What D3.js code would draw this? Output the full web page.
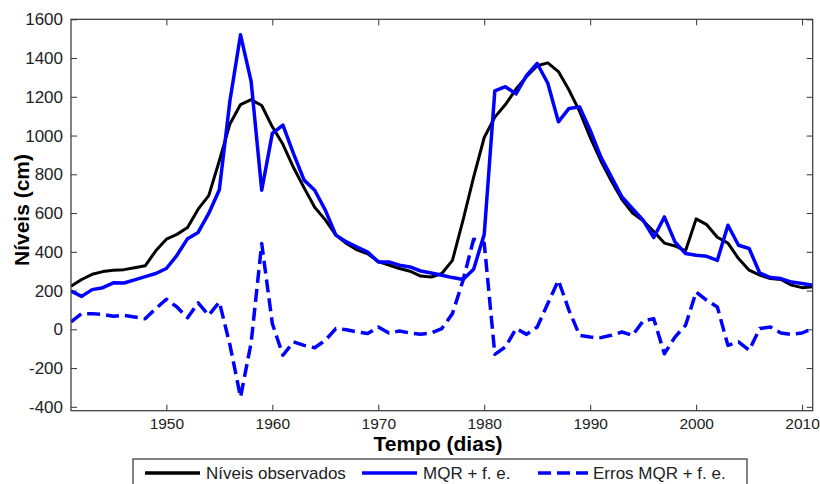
<!DOCTYPE html>
<html>
<head>
<meta charset="utf-8">
<script src="https://cdn.jsdelivr.net/npm/d3@7"></script>
<style>
    body { margin: 0; background: #fff; }
    svg { display: block; }
    text { font-family: "Liberation Sans", Arial, sans-serif; }
</style>
</head>
<body>
<div id="chart"></div>
<script>
// years on the x axis (one point per year)
const years = [
    1941, 1942, 1943, 1944, 1945, 1946, 1947, 1948, 1949, 1950,
    1951, 1952, 1953, 1954, 1955, 1956, 1957, 1958, 1959, 1960,
    1961, 1962, 1963, 1964, 1965, 1966, 1967, 1968, 1969, 1970,
    1971, 1972, 1973, 1974, 1975, 1976, 1977, 1978, 1979, 1980,
    1981, 1982, 1983, 1984, 1985, 1986, 1987, 1988, 1989, 1990,
    1991, 1992, 1993, 1994, 1995, 1996, 1997, 1998, 1999, 2000,
    2001, 2002, 2003, 2004, 2005, 2006, 2007, 2008, 2009, 2010, 2011
];

// Níveis observados
const observed = [
    222, 257, 284, 298, 305, 308, 318, 328, 405, 465,
    490, 525, 620, 690, 870, 1060, 1160, 1185, 1155, 1045,
    955, 835, 730, 630, 565, 486, 443, 410, 390, 350,
    332, 314, 300, 275, 270, 288, 356, 563, 785, 990,
    1095, 1160, 1240, 1305, 1360, 1375, 1330, 1235, 1125, 990,
    870, 765, 670, 600, 560, 505, 445, 430, 405, 570,
    540, 475, 445, 365, 305, 280, 262, 257, 228, 215, 220
];

// MQR + f. e.
const mqr = [
    198, 170, 205, 215, 240, 239, 255, 272, 288, 314,
    382, 468, 500, 598, 720, 1180, 1520, 1280, 718, 1011,
    1054, 907, 770, 718, 615, 486, 451, 425, 399, 348,
    348, 331, 322, 301, 291, 279, 267, 257, 310, 490,
    1230, 1252, 1215, 1310, 1372, 1270, 1071, 1140, 1148, 1028,
    890, 787, 683, 623, 563, 474, 580, 451, 391, 382,
    377, 356, 537, 434, 417, 291, 267, 262, 244, 236, 227
];

// Erros MQR + f. e.
const errors = [
    38, 81, 81, 77, 67, 72, 64, 55, 107, 155,
    115, 60, 136, 72, 141, -80, -350, -70, 443, 30,
    -134, -65, -83, -95, -57, 4, -2, -14, -22, 12,
    -19, -9, -19, -26, -19, 4, 81, 253, 465, 445,
    -129, -91, 4, -26, 12, 133, 253, 98, -31, -40,
    -43, -31, -14, -31, 43, 55, -126, -40, 21, 193,
    150, 115, -83, -65, -108, 4, 12, -19, -26, -19, 4
];

const xTicks = [1950, 1960, 1970, 1980, 1990, 2000, 2010];
const yTicks = [-400, -200, 0, 200, 400, 600, 800, 1000, 1200, 1400, 1600];

const seriesNames = ["Níveis observados", "MQR + f. e.", "Erros MQR + f. e."];

const width = 820;
const height = 484;
const margin = { top: 19.3, right: 7.3, bottom: 73.3, left: 71 };
const plotW = width - margin.left - margin.right;
const plotH = height - margin.top - margin.bottom;

const series = [
    { name: seriesNames[0], values: observed, color: "#000000", width: 3, dash: null },
    { name: seriesNames[1], values: mqr, color: "#0000ff", width: 3.5, dash: null },
    { name: seriesNames[2], values: errors, color: "#0000ff", width: 3.5, dash: "13,6" }
];

const svg = d3.select("#chart")
    .append("svg")
    .attr("width", width)
    .attr("height", height);

const g = svg.append("g")
    .attr("transform", `translate(${margin.left},${margin.top})`);

const x = d3.scaleLinear()
    .domain([1941, 2011])
    .range([0, plotW]);

const y = d3.scaleLinear()
    .domain([-420, 1600])
    .range([plotH, 0]);

g.append("clipPath")
    .attr("id", "plot-clip")
    .append("rect")
    .attr("width", plotW)
    .attr("height", plotH);

// axes, ticks pointing inwards on all four sides
const axisColor = "#333";

const xAxis = g.append("g")
    .attr("transform", `translate(0,${plotH})`)
    .call(d3.axisBottom(x).tickValues(xTicks).tickSizeInner(-6).tickSizeOuter(0).tickPadding(7).tickFormat(d => String(d)));

const yAxis = g.append("g")
    .call(d3.axisLeft(y).tickValues(yTicks).tickSizeInner(-6).tickSizeOuter(0).tickPadding(8).tickFormat(d => String(d)));

const xAxisTop = g.append("g")
    .call(d3.axisTop(x).tickValues(xTicks).tickSizeInner(-6).tickSizeOuter(0).tickFormat(""));

const yAxisRight = g.append("g")
    .attr("transform", `translate(${plotW},0)`)
    .call(d3.axisRight(y).tickValues(yTicks).tickSizeInner(-6).tickSizeOuter(0).tickFormat(""));

[xAxis, yAxis, xAxisTop, yAxisRight].forEach(ax => {
    ax.select(".domain").remove();
    ax.selectAll(".tick line").attr("stroke", axisColor);
    ax.selectAll(".tick text").attr("fill", "#222");
});
yAxis.selectAll(".tick text").style("font-size", "17px");
xAxis.selectAll(".tick text").style("font-size", "15.5px");

// lines
const line = d3.line()
    .x((d, i) => x(years[i]))
    .y(d => y(d));

g.append("g")
    .attr("clip-path", "url(#plot-clip)")
    .selectAll("path")
    .data(series)
    .enter()
    .append("path")
    .attr("d", d => line(d.values))
    .attr("fill", "none")
    .attr("stroke", d => d.color)
    .attr("stroke-width", d => d.width)
    .attr("stroke-dasharray", d => d.dash)
    .attr("stroke-linejoin", "round");

// frame
g.append("rect")
    .attr("width", plotW)
    .attr("height", plotH)
    .attr("fill", "none")
    .attr("stroke", axisColor)
    .attr("stroke-width", 1.2);

// axis titles
svg.append("text")
    .attr("x", 438)
    .attr("y", 451)
    .attr("text-anchor", "middle")
    .style("font-size", "21px")
    .style("font-weight", "bold")
    .text("Tempo (dias)");

svg.append("text")
    .attr("transform", "translate(29,210) rotate(-90)")
    .attr("text-anchor", "middle")
    .style("font-size", "21px")
    .style("font-weight", "bold")
    .text("Níveis (cm)");

// legend
const legend = svg.append("g");

legend.append("rect")
    .attr("x", 133)
    .attr("y", 459)
    .attr("width", 614)
    .attr("height", 40)
    .attr("fill", "#fff")
    .attr("stroke", axisColor)
    .attr("stroke-width", 1.2);

const legendX = [145, 362, 538];

const item = legend.selectAll(".item")
    .data(series)
    .enter()
    .append("g")
    .attr("class", "item")
    .attr("transform", (d, i) => `translate(${legendX[i]},473)`);

item.append("line")
    .attr("x1", 0)
    .attr("x2", (d, i) => i === 2 ? 50 : 55)
    .attr("stroke", d => d.color)
    .attr("stroke-width", 3.5)
    .attr("stroke-dasharray", d => d.dash);

item.append("text")
    .attr("x", (d, i) => i === 2 ? 55 : 61)
    .attr("dy", "0.35em")
    .attr("fill", "#222")
    .style("font-size", "17px")
    .text(d => d.name);
</script>
</body>
</html>
